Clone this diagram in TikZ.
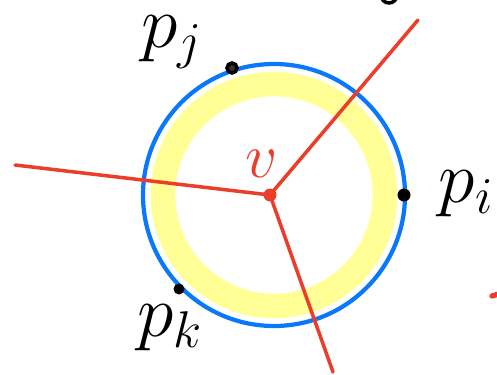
\RequirePackage{fix-cm}
\documentclass[tikz,border=0pt]{standalone}
\usepackage{tikz}
\usetikzlibrary{positioning,calc}
\definecolor{sketchblue}{RGB}{10,120,250}
\definecolor{sketchred}{RGB}{236,60,42}
\definecolor{sketchyellow}{RGB}{255,255,150}

\begin{document}
\begin{tikzpicture}[x=0.02cm, y=-0.02cm,
      edge/.style={draw=sketchred, line width=2pt, line cap=round},
      ring/.style={draw=sketchblue, line width=2.4pt},
      band/.style={draw=sketchyellow, line width=14pt},
      site/.style={circle, fill=black, inner sep=0pt, minimum size=0.26cm},
      lbl/.style={font=\fontsize{42}{46}\selectfont, inner sep=0pt}
    ]
    \clip (0,0) rectangle (497,375);
    \useasboundingbox (0,0) rectangle (497,375);

    % Circle with its band
    \coordinate (c) at (274,195);
    \draw[band] (c) circle[radius=111];
    \draw[ring] (c) circle[radius=131];

    % Edges from v
    \node[circle, fill=sketchred, inner sep=0pt, minimum size=0.26cm] (v) at (270,195) {};
    \coordinate (west) at (15,165);
    \coordinate (north) at (418,20);
    \coordinate (south) at (333,372);
    \draw[edge] (v.center) -- (west);
    \draw[edge] (v.center) -- (north);
    \draw[edge] (v.center) -- (south);
    \node[lbl, text=sketchred, font=\fontsize{36}{40}\selectfont] (vlbl) at (262,164) {$v$};

    % Sites on the circle
    \node[circle, draw=black, fill=black!80, line width=2pt, inner sep=0pt, minimum size=0.2cm] (pj) at (232,68) {};
    \node[site] (pi) at (404,195) {};
    \node[site, minimum size=0.22cm] (pk) at (179,289) {};
    \node[lbl] (pjlbl) at (172,42) {$p_j$};
    \node[lbl] (pilbl) at (466,194) {$p_i$};
    \node[lbl] (pklbl) at (170,328) {$p_k$};

    % Cut-off marks at the edges
    \draw[line width=2pt, line cap=round] (381,-5) arc[start angle=180, end angle=0, radius=8];
    \draw[edge, line width=3pt] (492,296) -- (505,292);
  \end{tikzpicture}
\end{document}
